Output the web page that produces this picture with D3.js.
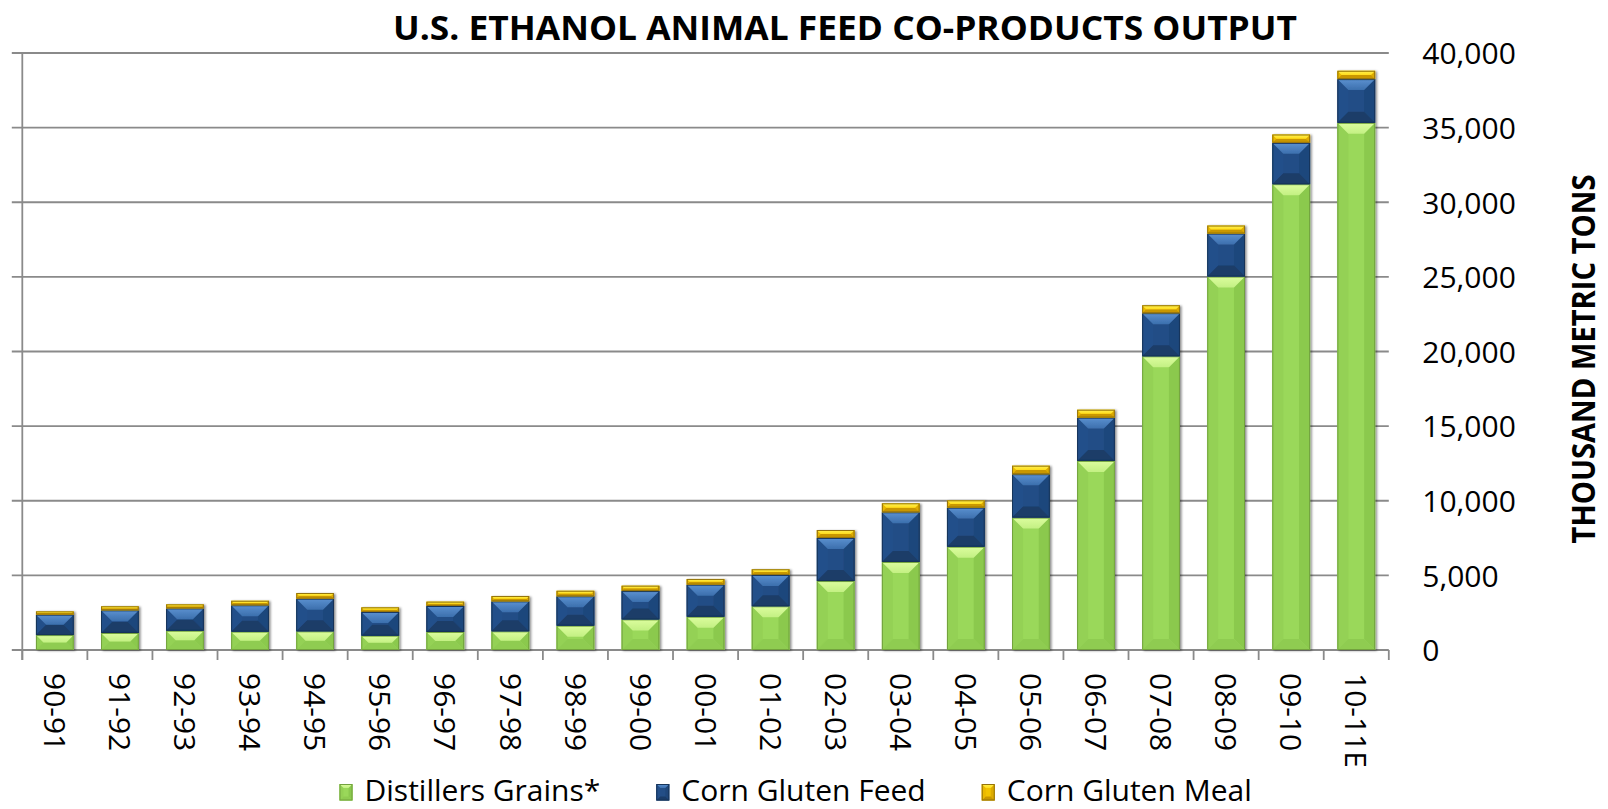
<!DOCTYPE html>
<html>
<head>
<meta charset="utf-8">
<script src="https://cdn.jsdelivr.net/npm/d3@7"></script>
<style>
  html, body { margin: 0; padding: 0; background: #ffffff; }
  svg { display: block; font-family: "Open Sans", "Noto Sans", sans-serif; }
</style>
</head>
<body>
<svg id="chart" width="1608" height="809"></svg>
<script>
// Marketing years (Sept-Aug), 2010-11 estimated
const categories = ["90-91", "91-92", "92-93", "93-94", "94-95", "95-96", "96-97", "97-98", "98-99", "99-00",
  "00-01", "01-02", "02-03", "03-04", "04-05", "05-06", "06-07", "07-08", "08-09", "09-10", "10-11E"];

// Output in thousand metric tons
const distillersGrains = [1000, 1140, 1290, 1230, 1250, 960, 1210, 1250, 1630, 2050,
  2230, 2930, 4620, 5900, 6920, 8870, 12670, 19680, 25020, 31210, 35320];
const cornGlutenFeed = [1370, 1520, 1500, 1770, 2190, 1590, 1740, 2010, 1970, 1900,
  2150, 2100, 2890, 3330, 2620, 2910, 2900, 2890, 2880, 2770, 2930];
const cornGlutenMeal = [220, 270, 270, 300, 380, 310, 290, 360, 370, 360,
  380, 380, 530, 600, 490, 570, 530, 530, 540, 560, 560];

const seriesNames = ["Distillers Grains*", "Corn Gluten Feed", "Corn Gluten Meal"];
const yTicks = [0, 5000, 10000, 15000, 20000, 25000, 30000, 35000, 40000];

const titleText = "U.S. ETHANOL ANIMAL FEED CO-PRODUCTS OUTPUT";
const yAxisTitle = "THOUSAND METRIC TONS";

// Bevelled fill styles for each series
const styles = [
  { base: "#9ad85a", topA: "#dcfd9e", topB: "#c3f083", left: "#94d155", right: "#8bc94e", bottom: "#8fcc51", stroke: "#72a23e" },
  { base: "#234e86", topA: "#5b91d0", topB: "#3c6fad", left: "#24508a", right: "#1f477b", bottom: "#1a3c68", stroke: "#173459" },
  { base: "#f2c300", topA: "#fff250", topB: "#ffdc1e", left: "#eab900", right: "#ddab00", bottom: "#c99700", stroke: "#94730a" }
];

const svg = d3.select("#chart");
const plot = { left: 22.3, right: 1388.8, top: 53, bottom: 650 };

const table = categories.map((c, i) => ({
  cat: c, dg: distillersGrains[i], cgf: cornGlutenFeed[i], cgm: cornGlutenMeal[i]
}));
const keys = ["dg", "cgf", "cgm"];
const stacked = d3.stack().keys(keys)(table);

const x = d3.scaleBand()
  .domain(categories)
  .range([plot.left, plot.right])
  .paddingInner(0.42)
  .paddingOuter(0.21);

const y = d3.scaleLinear()
  .domain([0, 40000])
  .range([plot.bottom, plot.top]);

// Gradients and shadow
const defs = svg.append("defs");
styles.forEach((s, i) => {
  const g = defs.append("linearGradient").attr("id", "top" + i)
    .attr("x1", 0).attr("y1", 0).attr("x2", 0).attr("y2", 1);
  g.append("stop").attr("offset", "0%").attr("stop-color", s.topA);
  g.append("stop").attr("offset", "100%").attr("stop-color", s.topB);
});
const f = defs.append("filter").attr("id", "shadow")
  .attr("x", "-20%").attr("y", "-5%").attr("width", "150%").attr("height", "115%");
f.append("feDropShadow").attr("dx", 1.6).attr("dy", 0.8)
  .attr("stdDeviation", 1.1).attr("flood-color", "#000").attr("flood-opacity", 0.45);

// Gridlines with short outward ticks on the left
const gridColor = "#8a8a8a";
svg.append("g").selectAll("line")
  .data(yTicks)
  .join("line")
  .attr("x1", plot.left - 10.5)
  .attr("x2", plot.right)
  .attr("y1", d => y(d))
  .attr("y2", d => y(d))
  .attr("stroke", gridColor)
  .attr("stroke-width", 1.8);

// Left vertical axis line
svg.append("line")
  .attr("x1", plot.left).attr("x2", plot.left)
  .attr("y1", y(40000)).attr("y2", plot.bottom + 10)
  .attr("stroke", gridColor).attr("stroke-width", 1.8);

// Category boundary ticks below the axis
const boundaries = d3.range(categories.length + 1).map(i => plot.left + i * x.step());
svg.append("g").selectAll("line")
  .data(boundaries)
  .join("line")
  .attr("x1", d => d).attr("x2", d => d)
  .attr("y1", plot.bottom).attr("y2", plot.bottom + 10)
  .attr("stroke", gridColor).attr("stroke-width", 1.8);

// Draw one bevelled segment: light top chevron, soft sides, darker base
function bevelSegment(g, x0, y0, w, h, si, maxB) {
  const s = styles[si];
  const b = Math.max(0, Math.min(maxB || 11, h / 2, w / 2));
  const x1 = x0 + w, y1 = y0 + h;
  g.append("rect").attr("x", x0).attr("y", y0).attr("width", w).attr("height", h).attr("fill", s.base);
  const poly = (pts, fill) => g.append("polygon")
    .attr("points", pts.map(p => p.join(",")).join(" ")).attr("fill", fill);
  if (h > 0.5) {
    poly([[x0, y0], [x0 + b, y0 + b], [x0 + b, y1 - b], [x0, y1]], s.left);
    poly([[x1, y0], [x1 - b, y0 + b], [x1 - b, y1 - b], [x1, y1]], s.right);
    poly([[x0, y1], [x1, y1], [x1 - b, y1 - b], [x0 + b, y1 - b]], s.bottom);
    poly([[x0, y0], [x1, y0], [x1 - b, y0 + b], [x0 + b, y0 + b]], "url(#top" + si + ")");
  }
  g.append("rect").attr("x", x0 + 0.5).attr("y", y0 + 0.5)
    .attr("width", Math.max(0, w - 1)).attr("height", Math.max(0, h - 1))
    .attr("fill", "none").attr("stroke", s.stroke).attr("stroke-width", 1);
}

// Stacked bars
const barsG = svg.append("g");
categories.forEach((c, i) => {
  const g = barsG.append("g").attr("filter", "url(#shadow)");
  stacked.forEach((layer, si) => {
    const d = layer[i];
    const top = y(d[1]), bot = y(d[0]);
    bevelSegment(g, x(c), top, x.bandwidth(), bot - top, si);
  });
});

// Right-hand value labels
const yAxis = d3.axisRight(y).tickValues(yTicks).tickFormat(d3.format(",")).tickSize(0).tickPadding(33.5);
const yAxisG = svg.append("g").attr("transform", `translate(${plot.right},0)`).call(yAxis);
yAxisG.select(".domain").remove();
yAxisG.selectAll("text")
  .attr("font-family", "'Open Sans', sans-serif")
  .attr("font-size", 30)
  .attr("fill", "#000")
  .attr("dy", "0.36em");

// Category labels, rotated to read downwards
svg.append("g").selectAll("text")
  .data(categories)
  .join("text")
  .attr("transform", d => `translate(${x(d) + x.bandwidth() / 2},673) rotate(90)`)
  .attr("dy", "0.36em")
  .attr("text-anchor", "start")
  .attr("font-size", 30)
  .attr("fill", "#000")
  .text(d => d);

// Title
svg.append("text")
  .attr("x", 845).attr("y", 39.5)
  .attr("text-anchor", "middle")
  .attr("font-size", 34)
  .attr("font-weight", 700)
  .attr("textLength", 904)
  .attr("lengthAdjust", "spacingAndGlyphs")
  .attr("fill", "#000")
  .text(titleText);

// Vertical axis title
svg.append("text")
  .attr("transform", "translate(1595,359) rotate(-90)")
  .attr("text-anchor", "middle")
  .attr("font-size", 32)
  .attr("font-weight", 700)
  .attr("textLength", 369)
  .attr("lengthAdjust", "spacingAndGlyphs")
  .attr("fill", "#000")
  .text(yAxisTitle);

// Legend laid out left to right
const legend = svg.append("g");
let lx = 339.5;
seriesNames.forEach((name, si) => {
  const item = legend.append("g");
  bevelSegment(item, lx, 784, 13, 16.5, si, 4);
  const t = item.append("text")
    .attr("x", lx + 25).attr("y", 800.5)
    .attr("font-size", 30)
    .attr("fill", "#000")
    .text(name);
  lx = lx + 25 + t.node().getComputedTextLength() + 56;
});
</script>
</body>
</html>
